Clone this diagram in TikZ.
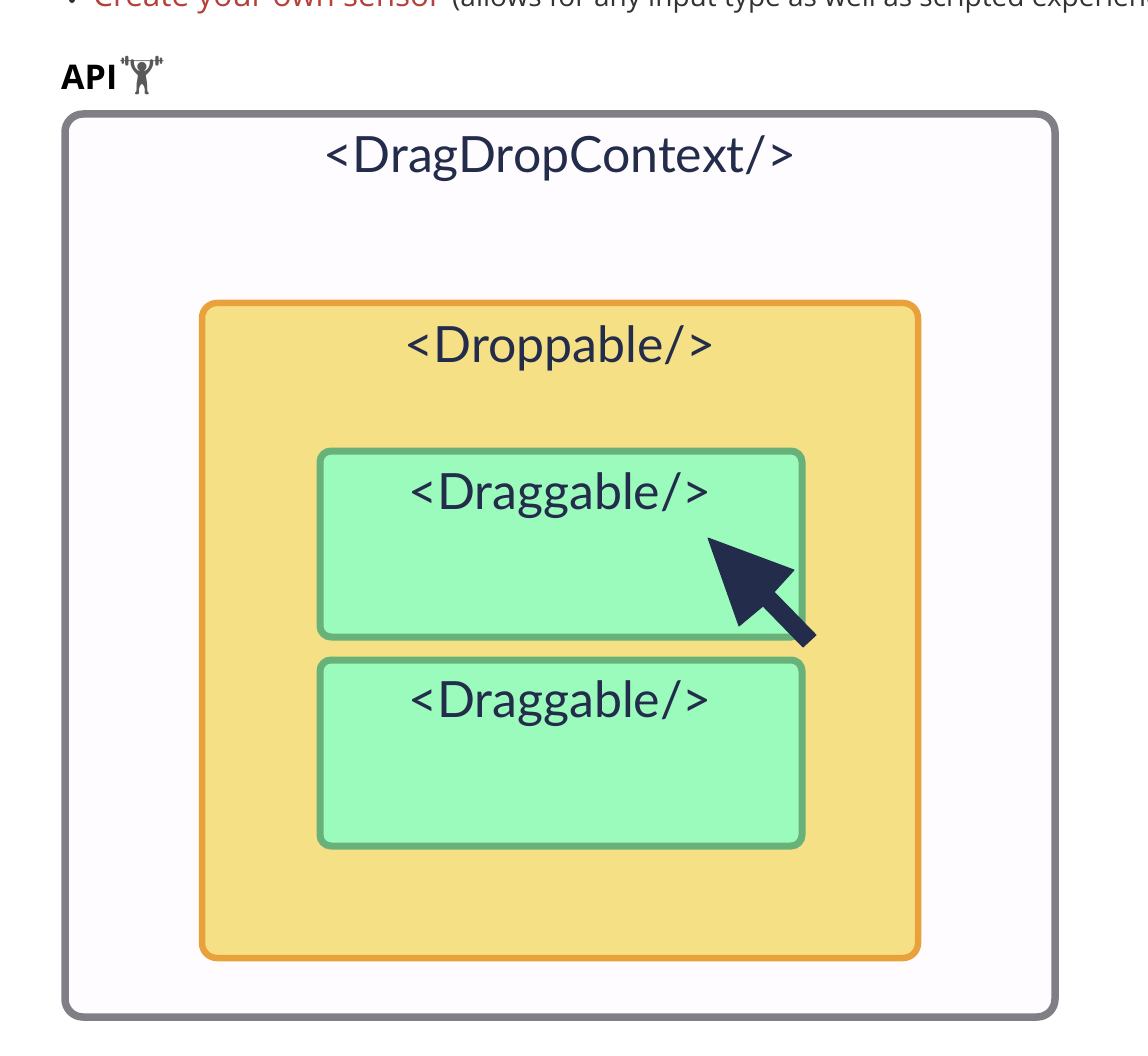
\documentclass[tikz,border=0pt]{standalone}
\usepackage{fontspec}
\setmainfont{Lato}
\newfontfamily\pagefont{Open Sans}
\newfontfamily\emojifont{Noto Emoji}
\definecolor{ink}{HTML}{232C4A}
\definecolor{greyline}{HTML}{7F7F85}
\definecolor{paleback}{HTML}{FEFCFE}
\definecolor{orangeline}{HTML}{E9A23B}
\definecolor{yellowfill}{HTML}{F6E085}
\definecolor{greenline}{HTML}{68B27A}
\definecolor{greenfill}{HTML}{9BFBBC}
\definecolor{linkred}{HTML}{B5413A}
\definecolor{bodygrey}{HTML}{333333}
\tikzset{
  boxshape/.style={rectangle,inner sep=0pt,outer sep=0pt,anchor=north west},
  contextbox/.style={boxshape,draw=greyline,fill=paleback,line width=7.5pt,rounded corners=18pt,minimum width=990pt,minimum height=903pt},
  droppablebox/.style={boxshape,draw=orangeline,fill=yellowfill,line width=6.5pt,rounded corners=15pt,minimum width=716pt,minimum height=655pt},
  draggablebox/.style={boxshape,draw=greenline,fill=greenfill,line width=7pt,rounded corners=11pt,minimum width=482pt,minimum height=186pt},
  boxlabel/.style={text=ink,font=\fontsize{50}{56}\selectfont,inner sep=0pt},
  pageline/.style={anchor=base west,inner sep=0pt,font=\pagefont\fontsize{31.5}{36}\selectfont},
}
\begin{document}
\begin{tikzpicture}[x=1pt,y=-1pt]
\useasboundingbox (0,0) rectangle (1148,1056);
\fill[white] (0,0) rectangle (1148,1056);
\begin{scope}
\clip (0,0) rectangle (1148,1056);
\node[pageline,text=linkred] (sensor) at (93,7) {Create your own sensor};
\node[pageline,text=bodygrey,font=\pagefont\fontsize{28}{32}\selectfont] (rest) at (452,7) {(allows for any input type as well as scripted experiences)};
\fill[bodygrey] (72,0) circle (3);
\end{scope}
\node[anchor=base west,inner sep=0pt,font=\pagefont\bfseries\fontsize{34}{40}\selectfont,text=black] (api) at (61,90) {API};
\node[anchor=center,inner sep=0pt,font=\emojifont\fontsize{38}{40}\selectfont,text=black!65] (lifter) at (142,76) {^^^^^^01f3cb};
\node[contextbox] (context) at (65,114) {};
\node[droppablebox] (droppable) at (202,303) {};
\node[draggablebox] (dragone) at (320,451) {};
\node[draggablebox] (dragtwo) at (320,660) {};
\node[boxlabel] (contextlabel) at (560,159) {<DragDropContext/>};
\node[boxlabel] (droppablelabel) at (560,348) {<Droppable/>};
\node[boxlabel] (dragonelabel) at (560,496) {<Draggable/>};
\node[boxlabel] (dragtwolabel) at (560,704) {<Draggable/>};
\fill[ink,line join=round,draw=ink,line width=1pt] (708,538) -- (794,570) -- (774,592) -- (816,635) -- (803,647) -- (763,606) -- (739,626) -- cycle;
\end{tikzpicture}
\end{document}
